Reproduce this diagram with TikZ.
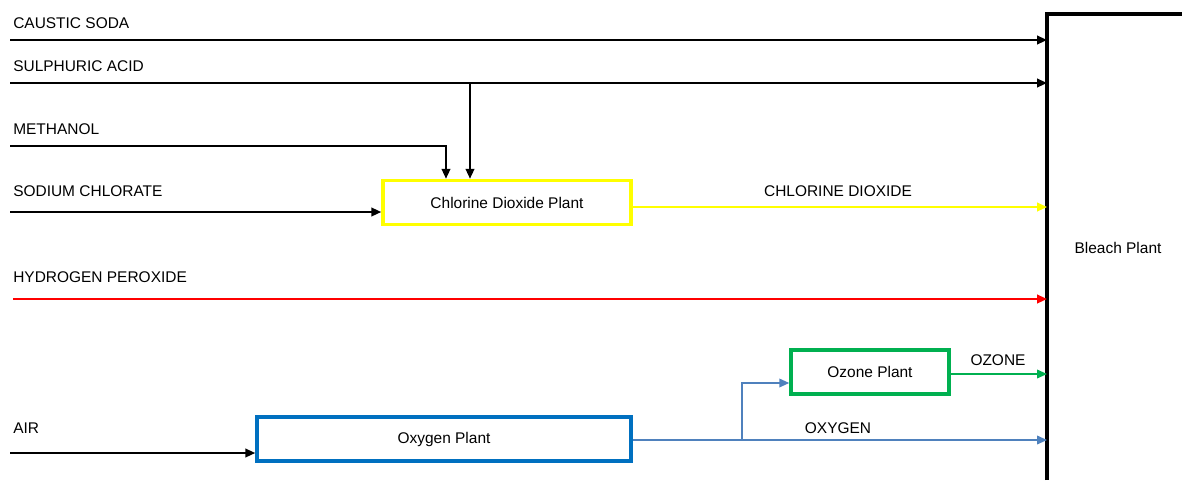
\documentclass[tikz,border=0pt]{standalone}
\usepackage{fontspec}
\setmainfont{Liberation Sans}
\usetikzlibrary{arrows.meta}
\definecolor{cyel}{HTML}{FFFF00}
\definecolor{cred}{HTML}{FF0000}
\definecolor{cgreen}{HTML}{00B050}
\definecolor{cblue}{HTML}{0070C0}
\definecolor{csteel}{HTML}{4F81BD}
\begin{document}
\begin{tikzpicture}[x=0.75pt,y=-0.75pt,
  lbl/.style={anchor=west,font=\fontsize{11.6pt}{13pt}\selectfont,inner sep=0pt},
  txt/.style={font=\fontsize{11.6pt}{13pt}\selectfont,inner sep=0pt},
  flow/.style={line width=1.5pt,-{Triangle[length=7.5pt,width=6.5pt]}},
  plant/.style={draw,line width=2.6pt,minimum height=33pt,inner sep=0pt,font=\fontsize{11.6pt}{13pt}\selectfont}]
\useasboundingbox (0,0) rectangle (1182,480);
% bleach plant
\draw[line width=3.2pt] (1047,480) -- (1047,14) -- (1182,14);
\node[txt] (bp) at (1118,248) {Bleach Plant};
\coordinate (bl) at (1047,0);
% plants
\node[plant,draw=cyel,minimum width=186pt] (cd) at (507,202.5) {Chlorine Dioxide Plant};
\node[plant,draw=cgreen,minimum width=118.5pt] (oz) at (870,372) {Ozone Plant};
\node[plant,draw=cblue,minimum width=280.5pt] (ox) at (444,439) {Oxygen Plant};
% start coordinates
\coordinate (cs0) at (10,40);
\coordinate (sa0) at (10,83);
\coordinate (me0) at (10,146);
\coordinate (sc0) at (10,212);
\coordinate (hp0) at (13,299);
\coordinate (air0) at (10,453);
\coordinate (saj) at (470,83);
\coordinate (mej) at (446,146);
\coordinate (oxj) at (742,440);
% labels
\node[lbl] (lcs) at (13,23) {CAUSTIC SODA};
\node[lbl] (lsa) at (13,66) {SULPHURIC ACID};
\node[lbl] (lme) at (13,129) {METHANOL};
\node[lbl] (lsc) at (13,191) {SODIUM CHLORATE};
\node[lbl] (lhp) at (13,277) {HYDROGEN PEROXIDE};
\node[lbl] (lair) at (13,428) {AIR};
\node[txt] (lcd) at (838,191) {CHLORINE DIOXIDE};
\node[txt] (loz) at (998,360) {OZONE};
\node[txt] (lox) at (838,428) {OXYGEN};
% flows
\draw[flow] (cs0) -- (cs0 -| bl);
\draw[flow] (sa0) -- (sa0 -| bl);
\draw[flow] (saj) -- (saj |- cd.north);
\draw[flow] (me0) -- (mej) -- (mej |- cd.north);
\draw[flow] (sc0) -- (sc0 -| cd.west);
\draw[flow,draw=cyel,color=cyel] (cd.east |- 0,207) -- (1047,207);
\draw[flow,draw=cred,color=cred] (hp0) -- (hp0 -| bl);
\draw[flow] (air0) -- (air0 -| ox.west);
\draw[flow,line width=1.2pt,draw=csteel,color=csteel] (ox.east |- oxj) -- (oxj -| bl);
\draw[flow,line width=1.2pt,draw=csteel,color=csteel] (oxj) -- (742,383) -- (oz.west |- 0,383);
\draw[flow,line width=1.2pt,draw=cgreen,color=cgreen] (oz.east |- 0,374) -- (1047,374);
\end{tikzpicture}
\end{document}
